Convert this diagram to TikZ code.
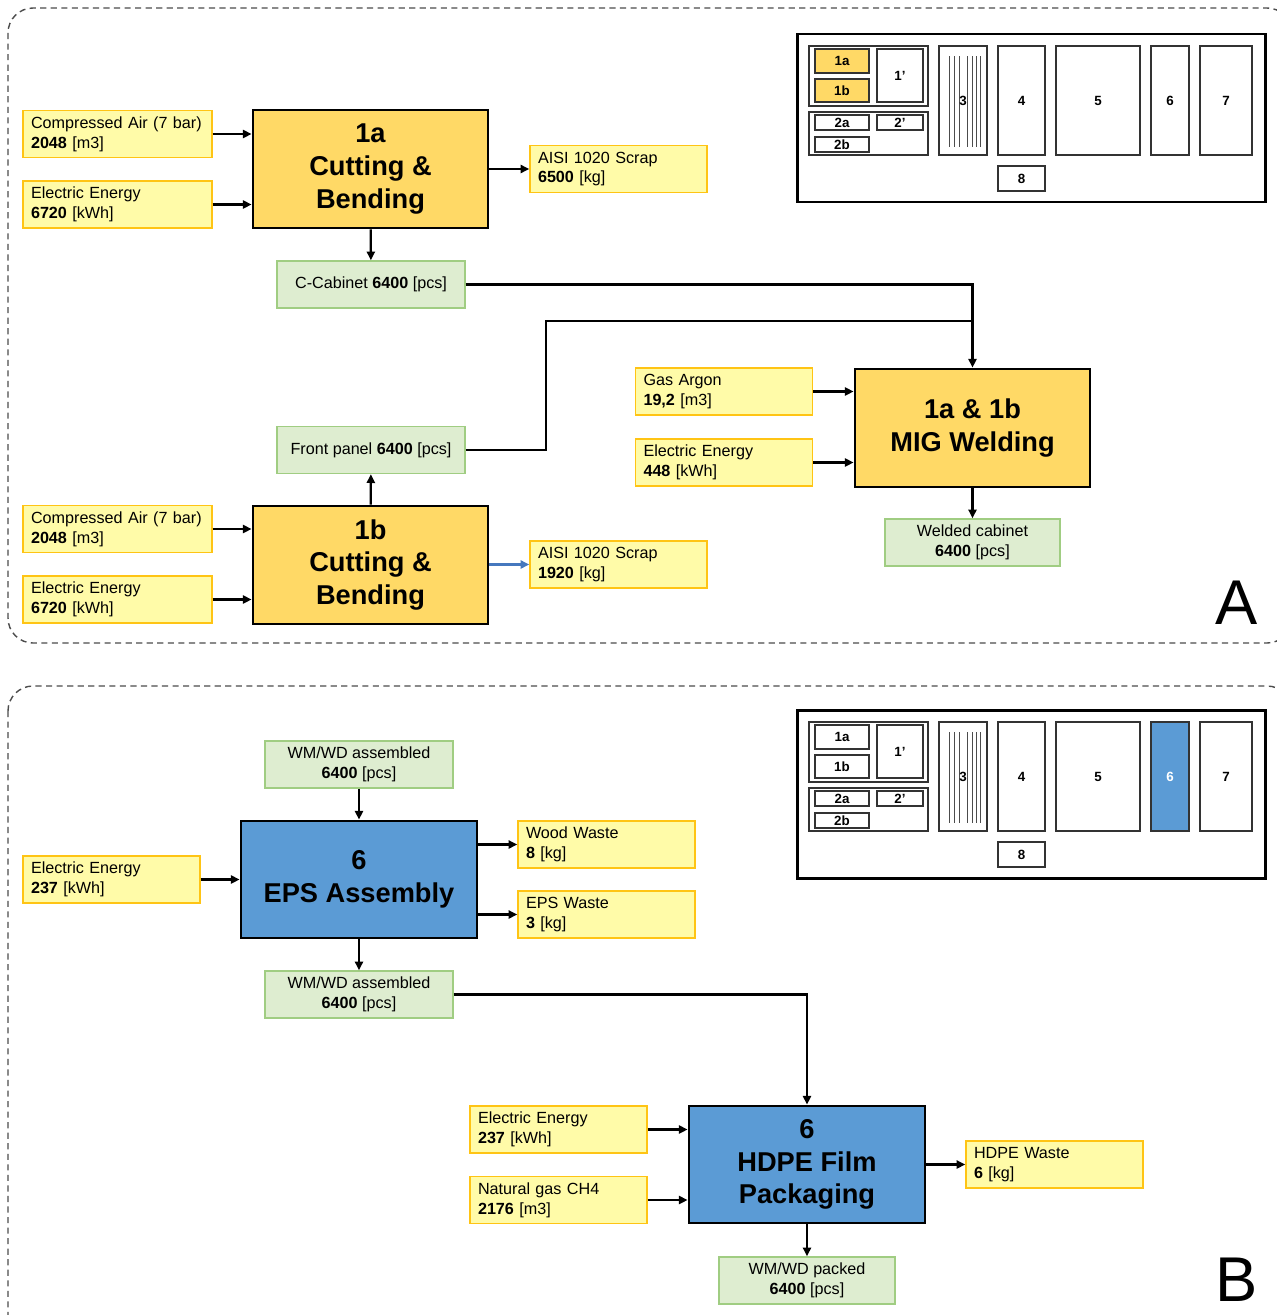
\documentclass[tikz,border=0pt]{standalone}
\usepackage{fontspec}
\setmainfont{Liberation Sans}
\usetikzlibrary{arrows.meta}
\definecolor{infill}{RGB}{255,251,168}
\definecolor{inedge}{RGB}{255,196,20}
\definecolor{procyel}{RGB}{255,217,102}
\definecolor{grfill}{RGB}{222,237,208}
\definecolor{gredge}{RGB}{160,205,130}
\definecolor{procblue}{RGB}{91,155,213}
\definecolor{flowblue}{RGB}{70,120,190}
\newcommand{\flowtxt}{\fontsize{9.2}{11.3}\selectfont}
\newcommand{\proctxt}{\fontsize{15.5}{18.7}\selectfont\bfseries}
\newcommand{\maptxt}{\fontsize{7.6}{8}\selectfont\bfseries}
\begin{document}
\begin{tikzpicture}[x=0.02cm, y=-0.02cm,
    inbox/.style={draw=inedge, fill=infill, line width=0.8pt, minimum height=0.94cm,
        text width=#1, inner xsep=0.16cm, align=left, font=\flowtxt},
    inbox/.default=3.22cm,
    outbox/.style={draw=gredge, fill=grfill, line width=0.8pt, minimum height=0.94cm,
        minimum width=#1, align=center, font=\flowtxt},
    outbox/.default=3.52cm,
    proc/.style={draw=black, line width=1.6pt, minimum width=4.7cm, minimum height=2.36cm,
        align=center, font=\proctxt},
    flow/.style={-{Triangle[length=5pt,width=4.6pt]}, line width=1.3pt},
    frame/.style={draw=black!70, line width=0.8pt, dash pattern=on 3.5pt off 2.5pt,
        rounded corners=0.5cm}]
    \useasboundingbox (0,0) rectangle (1277,1315);

    % Dashed frames
    \draw[frame] (8,8) rectangle (1292,643);
    \draw[frame] (8,686) rectangle (1292,1345);

    % Plant layout maps (highlighted areas first)
    \fill[procyel] (815,49) rectangle (869,73);
    \fill[procyel] (815,79) rectangle (869,102);
    \fill[procblue] (1151,722) rectangle (1189,831);
    \foreach \oy/\sixcol in {0/black,676/white} {
        \draw[line width=1.7pt] (797,34+\oy) rectangle (1265,202+\oy);
        \draw[black!80, line width=1pt] (809,46+\oy) rectangle (928,106+\oy);
        \draw[black!80, line width=1pt] (809,112+\oy) rectangle (928,155+\oy);
        % Line 3 rails
        \foreach \hx in {949,954,959,967,972,976,980} {
            \draw[black!70, line width=0.5pt] (\hx,56+\oy) -- (\hx,147+\oy);
        }
        \foreach \xa/\ya/\xb/\yb/\lab/\tc in {815/49/869/73/1a/black, 815/79/869/102/1b/black,
            877/49/923/102/1’/black, 815/115/869/130/2a/black, 877/115/923/130/2’/black,
            815/137/869/152/2b/black, 939/46/987/155/3/black, 998/46/1045/155/4/black,
            1056/46/1140/155/5/black, 1151/46/1189/155/6/\sixcol, 1200/46/1252/155/7/black,
            998/166/1045/191/8/black} {
            \draw[black!80, line width=1pt] (\xa,\ya+\oy) rectangle (\xb,\yb+\oy);
            \node[font=\maptxt, text=\tc, inner sep=0pt] at ({(\xa+\xb)/2},{(\ya+\yb)/2+\oy}) {\lab};
        }
    }

    % Panel A: cutting, bending and welding
    \node[inbox=3.46cm] (ca1) at (117.5,134) {Compressed Air (7 bar)\\\textbf{2048} [m3]};
    \node[inbox=3.46cm] (ee1) at (117.5,204.5) {Electric Energy\\\textbf{6720} [kWh]};
    \node[proc, fill=procyel] (p1a) at (370.5,169) {1a\\Cutting \&\\Bending};
    \node[inbox] (scr1) at (618.5,169) {AISI 1020 Scrap\\\textbf{6500} [kg]};
    \node[outbox=3.76cm] (ccab) at (371,284.5) {C-Cabinet \textbf{6400} [pcs]};
    \node[outbox=3.76cm] (front) at (371,450) {Front panel \textbf{6400} [pcs]};
    \node[inbox=3.46cm] (ca2) at (117.5,529) {Compressed Air (7 bar)\\\textbf{2048} [m3]};
    \node[inbox=3.46cm] (ee2) at (117.5,599.5) {Electric Energy\\\textbf{6720} [kWh]};
    \node[proc, fill=procyel] (p1b) at (370.5,565) {1b\\Cutting \&\\Bending};
    \node[inbox] (scr2) at (618.5,564.5) {AISI 1020 Scrap\\\textbf{1920} [kg]};
    \node[inbox] (gas) at (724,391.5) {Gas Argon\\\textbf{19,2} [m3]};
    \node[inbox] (ee3) at (724,462.5) {Electric Energy\\\textbf{448} [kWh]};
    \node[proc, fill=procyel] (weld) at (972.5,428) {1a \& 1b\\MIG Welding};
    \node[outbox=3.5cm] (wcab) at (972.5,542.5) {Welded cabinet\\\textbf{6400} [pcs]};
    \coordinate (jn) at (546,321);

    \draw[flow] (ca1) -- (ca1 -| p1a.west);
    \draw[flow] (ee1) -- (ee1 -| p1a.west);
    \draw[flow] (p1a) -- (scr1);
    \draw[flow] (p1a) -- (ccab);
    \draw[flow] (ccab.east) -| (weld.north);
    \draw[line width=1.3pt] (front.east) -| (jn) -- (jn -| weld.north);
    \draw[flow] (ca2) -- (ca2 -| p1b.west);
    \draw[flow] (ee2) -- (ee2 -| p1b.west);
    \draw[flow] (p1b) -- (front);
    \draw[flow, flowblue] (scr2 -| p1b.east) -- (scr2);
    \draw[flow] (gas) -- (gas -| weld.west);
    \draw[flow] (ee3) -- (ee3 -| weld.west);
    \draw[flow] (weld) -- (wcab);
    \node[font=\fontsize{36}{40}\selectfont] (labA) at (1237,603) {A};

    % Panel B: EPS assembly and packaging
    \node[outbox=3.76cm] (wma) at (359,764.5) {WM/WD assembled\\\textbf{6400} [pcs]};
    \node[proc, fill=procblue, minimum width=4.72cm, minimum height=2.34cm] (eps) at (359,879.5) {6\\EPS Assembly};
    \node[inbox] (ee4) at (111.5,879.5) {Electric Energy\\\textbf{237} [kWh]};
    \node[inbox] (wood) at (606.5,844.5) {Wood Waste\\\textbf{8} [kg]};
    \node[inbox] (epsw) at (606.5,914.5) {EPS Waste\\\textbf{3} [kg]};
    \node[outbox=3.76cm] (wmb) at (359,994.5) {WM/WD assembled\\\textbf{6400} [pcs]};
    \node[proc, fill=procblue, minimum width=4.72cm, minimum height=2.34cm] (hdpe) at (807,1164.5) {6\\HDPE Film\\Packaging};
    \node[inbox] (ee5) at (558.5,1129.5) {Electric Energy\\\textbf{237} [kWh]};
    \node[inbox] (ngas) at (558.5,1200) {Natural gas CH4\\\textbf{2176} [m3]};
    \node[inbox] (hw) at (1054.5,1164.5) {HDPE Waste\\\textbf{6} [kg]};
    \node[outbox] (wmp) at (807,1280.5) {WM/WD packed\\\textbf{6400} [pcs]};

    \draw[flow] (wma) -- (eps);
    \draw[flow] (ee4) -- (ee4 -| eps.west);
    \draw[flow] (wood -| eps.east) -- (wood);
    \draw[flow] (epsw -| eps.east) -- (epsw);
    \draw[flow] (eps) -- (wmb);
    \draw[flow] (wmb.east) -| (hdpe.north);
    \draw[flow] (ee5) -- (ee5 -| hdpe.west);
    \draw[flow] (ngas) -- (ngas -| hdpe.west);
    \draw[flow] (hdpe) -- (hw);
    \draw[flow] (hdpe) -- (wmp);
    \node[font=\fontsize{36}{40}\selectfont] (labB) at (1237,1280) {B};
\end{tikzpicture}
\end{document}
